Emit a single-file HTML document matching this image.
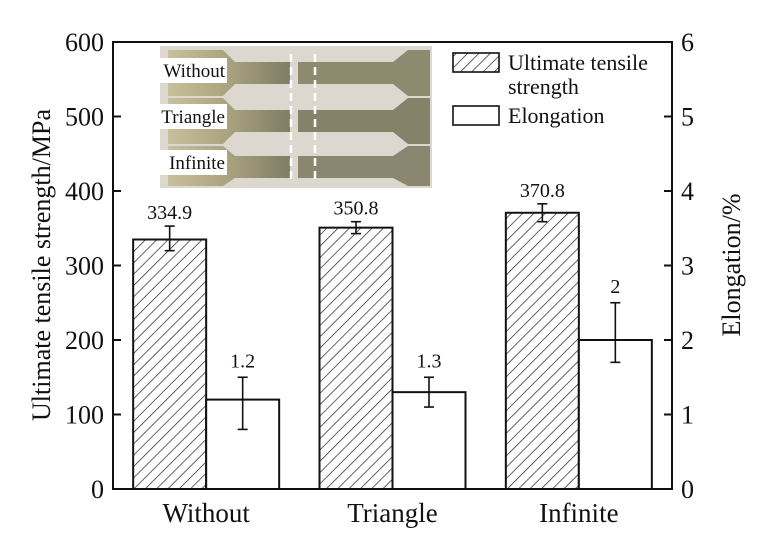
<!DOCTYPE html>
<html><head><meta charset="utf-8"><style>
body{margin:0;background:#fff}
svg{display:block;font-family:"Liberation Serif",serif}
</style></head><body>
<svg id="chart" width="762" height="550" viewBox="0 0 762 550">
<defs>
<pattern id="hatch" patternUnits="userSpaceOnUse" width="8" height="8" patternTransform="rotate(45)">
<line x1="0" y1="0" x2="0" y2="8" stroke="#222" stroke-width="1.4"/>
</pattern>
<linearGradient id="photo" x1="0" x2="1">
<stop offset="0" stop-color="#c8c09c"/><stop offset="0.5" stop-color="#a9a27f"/><stop offset="1" stop-color="#7f7c66"/>
</linearGradient>
</defs>
<g id="photo-inset">
<rect x="160" y="46" width="272" height="142" fill="#dcd8d0"/>
<g fill="url(#photo)">
<path d="M168 50 h55 l12 12 h55 v22 h-55 l-12 12 h-55z"/>
<path d="M298 62 h95 l15 -12 h22 v46 h-22 l-15 -12 h-95z" fill="#8e8a70"/>
<path d="M168 98 h55 l12 12 h55 v22 h-55 l-12 12 h-55z"/>
<path d="M298 110 h95 l15 -12 h22 v46 h-22 l-15 -12 h-95z" fill="#85826a"/>
<path d="M168 146 h55 l12 10 h55 v22 h-55 l-12 8 h-55z"/>
<path d="M298 156 h95 l15 -10 h22 v40 h-22 l-15 -8 h-95z" fill="#8a8670"/>
</g>
<g stroke="#fff" stroke-width="2.5" stroke-dasharray="8,5" fill="none">
<line x1="291" y1="54" x2="291" y2="182"/><line x1="315" y1="54" x2="315" y2="182"/>
</g>
<g font-size="19" fill="#111">
<rect x="155" y="58" width="72" height="25" fill="#fff"/><text x="225" y="77" text-anchor="end">Without</text>
<rect x="153" y="104" width="74" height="25" fill="#fff"/><text x="225" y="123" text-anchor="end">Triangle</text>
<rect x="158" y="150" width="69" height="25" fill="#fff"/><text x="225" y="169" text-anchor="end">Infinite</text>
</g>
</g>
<g id="marks"></g>
<rect x="113" y="42" width="559" height="447" fill="none" stroke="#111" stroke-width="2"/>
<g id="axes"></g>
<text transform="translate(50,265) rotate(-90)" text-anchor="middle" font-size="26" fill="#111">Ultimate tensile strength/MPa</text>
<text transform="translate(740,265) rotate(-90)" text-anchor="middle" font-size="26" fill="#111">Elongation/%</text>
<g>
<g>
<rect x="453" y="53" width="46" height="19" fill="url(#hatch)" stroke="#111" stroke-width="1.6"/>
<text x="508" y="70" font-size="22" fill="#111">Ultimate tensile</text>
<text x="508" y="94" font-size="22" fill="#111">strength</text>
</g>
<g>
<rect x="453" y="106" width="46" height="19" fill="#fff" stroke="#111" stroke-width="1.6"/>
<text x="508" y="123" font-size="22" fill="#111">Elongation</text>
</g>
</g>
</svg>
<script>
const categories = ["Without", "Triangle", "Infinite"];
const utsValues = [334.9, 350.8, 370.8];
const utsErrUp = [18, 8, 12];
const utsErrDown = [15, 8, 12];
const elongValues = [1.2, 1.3, 2];
const elongErrUp = [0.3, 0.2, 0.5];
const elongErrDown = [0.4, 0.2, 0.3];
const leftTicks = [0, 100, 200, 300, 400, 500, 600];
const rightTicks = [0, 1, 2, 3, 4, 5, 6];

const NS = "http://www.w3.org/2000/svg";
const X0 = 113, X1 = 672, Y0 = 489, Y1 = 42;
const yL = v => Y0 - (v / 600) * (Y0 - Y1);
const yR = v => Y0 - (v / 6) * (Y0 - Y1);
const groupW = (X1 - X0) / categories.length;
const barW = 73;
const xGroup = i => X0 + groupW * i + groupW / 2;
function mk(tag, attrs, parent) {
  const e = document.createElementNS(NS, tag);
  for (const k in attrs) e.setAttribute(k, attrs[k]);
  parent.appendChild(e);
  return e;
}
const marks = document.getElementById("marks");
const axes = document.getElementById("axes");
function errBar(x, top, bot, name) {
  const g = mk("g", {stroke: "#111", "stroke-width": 1.6}, marks);
  
  
  mk("line", {x1: x, x2: x, y1: top, y2: bot}, g);
  mk("line", {x1: x - 5, x2: x + 5, y1: top, y2: top}, g);
  mk("line", {x1: x - 5, x2: x + 5, y1: bot, y2: bot}, g);
}
categories.forEach((c, i) => {
  const cx = xGroup(i);
  const xa = cx - barW, xb = cx;
  const r1 = mk("rect", {x: xa, y: yL(utsValues[i]), width: barW, height: Y0 - yL(utsValues[i]), fill: "url(#hatch)", stroke: "#111", "stroke-width": 2}, marks);
  
  
  const r2 = mk("rect", {x: xb, y: yR(elongValues[i]), width: barW, height: Y0 - yR(elongValues[i]), fill: "#fff", stroke: "#111", "stroke-width": 2}, marks);
  
  
  errBar(xa + barW / 2, yL(utsValues[i] + utsErrUp[i]), yL(utsValues[i] - utsErrDown[i]), 'uts-error-' + c.toLowerCase());
  errBar(xb + barW / 2, yR(elongValues[i] + elongErrUp[i]), yR(elongValues[i] - elongErrDown[i]), 'elongation-error-' + c.toLowerCase());
  const t1 = mk("text", {x: xa + barW / 2, y: yL(utsValues[i] + utsErrUp[i]) - 7, "text-anchor": "middle", "font-size": 20, fill: "#111"}, marks);
  t1.textContent = utsValues[i].toFixed(1);
  
  
  const t2 = mk("text", {x: xb + barW / 2, y: yR(elongValues[i] + elongErrUp[i]) - 10, "text-anchor": "middle", "font-size": 20, fill: "#111"}, marks);
  t2.textContent = String(elongValues[i]);
  
  
  const xl = mk("text", {x: cx, y: 522, "text-anchor": "middle", "font-size": 27, fill: "#111"}, axes);
  xl.textContent = c;
  
  
});
leftTicks.forEach(v => {
  const y = yL(v);
  if (v > 0 && v < 600) mk("line", {x1: X0, x2: X0 + 8, y1: y, y2: y, stroke: "#111", "stroke-width": 2}, axes);
  const t = mk("text", {x: 104, y: y + 9, "text-anchor": "end", "font-size": 26, fill: "#111"}, axes);
  t.textContent = v;
  
  
});
rightTicks.forEach(v => {
  const y = yR(v);
  if (v > 0 && v < 6) mk("line", {x1: X1 - 8, x2: X1, y1: y, y2: y, stroke: "#111", "stroke-width": 2}, axes);
  const t = mk("text", {x: 681, y: y + 9, "font-size": 26, fill: "#111"}, axes);
  t.textContent = v;
  
  
});
</script>
</body></html>
